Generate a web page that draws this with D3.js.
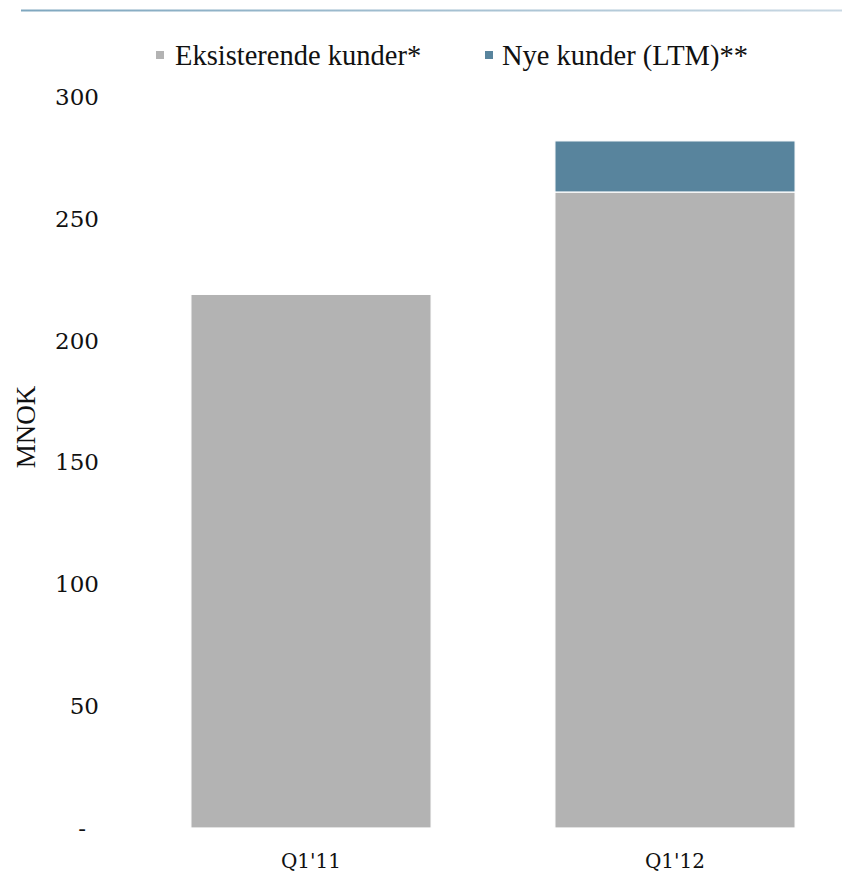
<!DOCTYPE html>
<html>
<head>
<meta charset="utf-8">
<script src="https://cdn.jsdelivr.net/npm/d3@7/dist/d3.min.js"></script>
<style>
  html, body { margin: 0; padding: 0; background: #ffffff; }
  svg { display: block; }
</style>
</head>
<body>
<div id="chart"></div>
<script>
// ---- data ----
const categories = ["Q1'11", "Q1'12"];
const seriesNames = ["Eksisterende kunder*", "Nye kunder (LTM)**"];
const eksisterende = [219, 261];
const nye = [0, 21];
const yTicks = [0, 50, 100, 150, 200, 250, 300];
const yTickLabels = ["-", "50", "100", "150", "200", "250", "300"];
const colors = ["#b3b3b3", "#58849d"];

const W = 855, H = 893;
const svg = d3.select("#chart").append("svg").attr("width", W).attr("height", H);

// top rule with gradient
const defs = svg.append("defs");
const grad = defs.append("linearGradient").attr("id", "topline").attr("x1", "0%").attr("x2", "100%");
grad.append("stop").attr("offset", "0%").attr("stop-color", "#7fa7bf");
grad.append("stop").attr("offset", "100%").attr("stop-color", "#c9d8e3");
svg.append("rect").attr("x", 21).attr("y", 9.5).attr("width", 821).attr("height", 2).attr("fill", "url(#topline)");

const x = d3.scaleBand().domain(categories).range([129, 857]).paddingInner(0.34).paddingOuter(0.17);
const y = d3.scaleLinear().domain([0, 300]).range([828, 97]);

// stacked data
const table = categories.map((c, i) => ({ cat: c, s0: eksisterende[i], s1: nye[i] }));
const stack = d3.stack().keys(["s0", "s1"])(table);

svg.append("g").selectAll("g").data(stack).join("g")
  .attr("fill", (d, i) => colors[i])
  .selectAll("rect").data(d => d.filter(p => p[1] - p[0] > 0)).join("rect")
  .attr("x", d => x(d.data.cat))
  .attr("width", x.bandwidth())
  .attr("y", d => y(d[1]))
  .attr("height", d => y(d[0]) - y(d[1]))
  .attr("stroke", "#ffffff")
  .attr("stroke-width", 1.2);

// y axis labels
const yAxis = d3.axisLeft(y).tickValues(yTicks)
  .tickFormat((d, i) => yTickLabels[i]).tickSize(0).tickPadding(0);
const gy = svg.append("g").attr("transform", "translate(99,0)").call(yAxis);
gy.select(".domain").remove();
gy.selectAll("text")
  .attr("font-family", "'DejaVu Serif', Georgia, serif")
  .attr("font-size", 23)
  .attr("fill", "#111")
  .attr("x", d => d === 0 ? -13 : 0);

// x axis labels
const xAxis = d3.axisBottom(x).tickSize(0).tickPadding(0);
const gx = svg.append("g").attr("transform", "translate(0,852)").call(xAxis);
gx.select(".domain").remove();
gx.selectAll("text")
  .attr("font-family", "'DejaVu Serif', Georgia, serif")
  .attr("font-size", 20)
  .attr("fill", "#111")
  .attr("dy", "0.8em");

// y axis title
svg.append("text")
  .attr("transform", "translate(35,427) rotate(-90)")
  .attr("text-anchor", "middle")
  .attr("font-family", "'Liberation Serif', 'Times New Roman', serif")
  .attr("font-size", 27)
  .attr("fill", "#111")
  .text("MNOK");

// legend
const legendX = [156, 485];
const lg = svg.append("g").selectAll("g").data(seriesNames).join("g")
  .attr("transform", (d, i) => `translate(${legendX[i]},0)`);
lg.append("rect").attr("x", 0).attr("y", 51).attr("width", 8).attr("height", 8)
  .attr("fill", (d, i) => colors[i]);
lg.append("text").attr("x", (d, i) => i === 0 ? 19 : 17).attr("y", 65)
  .attr("font-family", "'Liberation Serif', 'Times New Roman', serif")
  .attr("font-size", 28.5)
  .attr("fill", "#111")
  .text(d => d);
</script>
</body>
</html>
